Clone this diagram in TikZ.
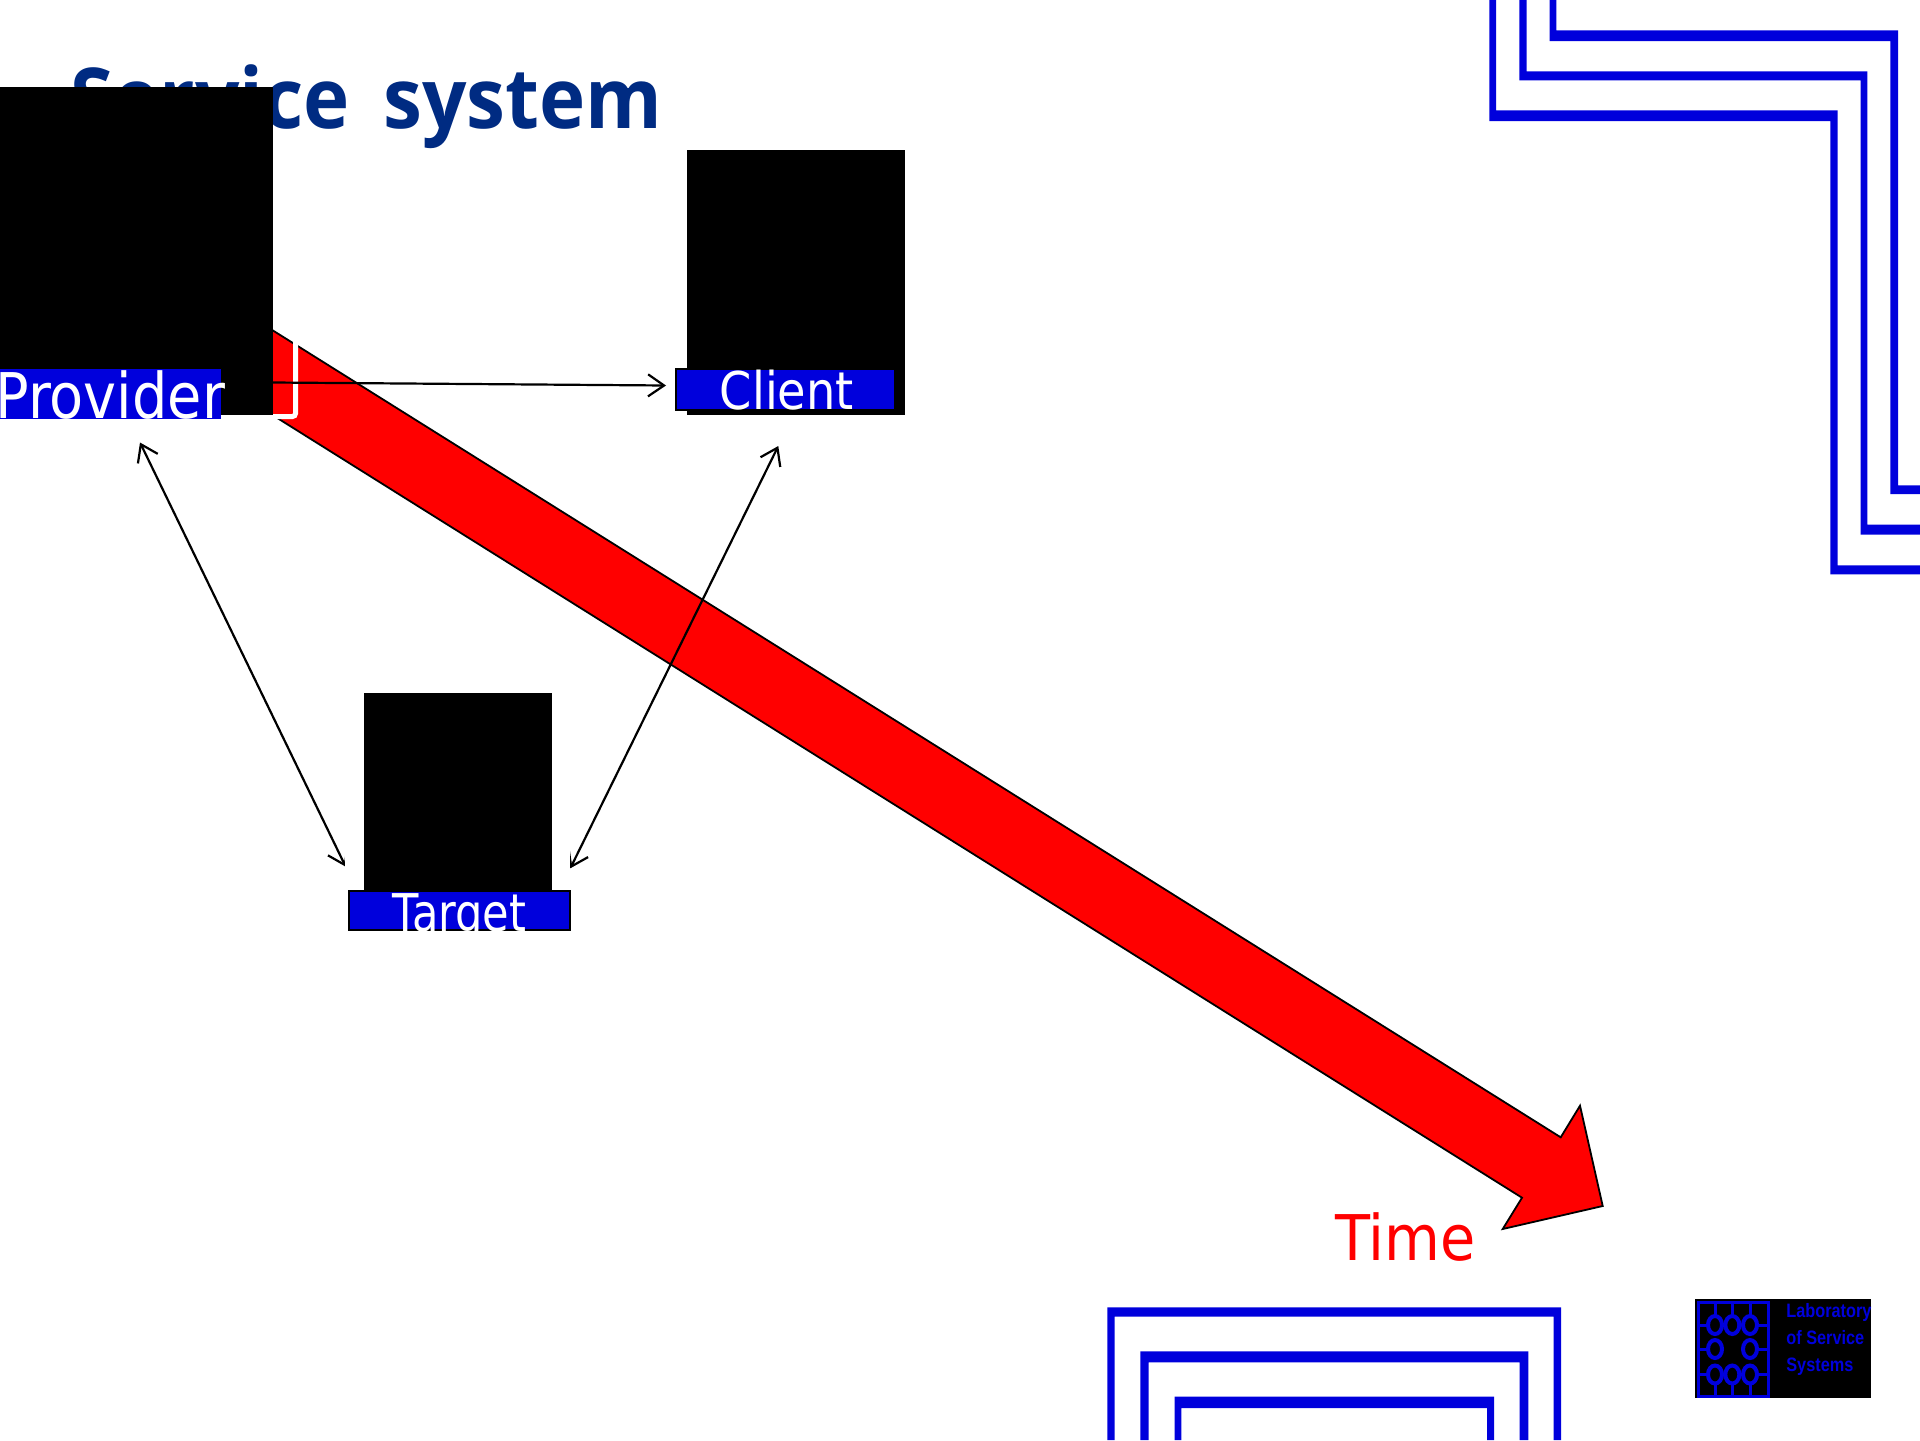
\documentclass[tikz,border=0pt]{standalone}
\usepackage{fontspec}
\usetikzlibrary{arrows.meta}
\setmainfont{DejaVu Sans}
\newfontfamily\titlefont{Open Sans}[BoldFont={Open Sans Bold}]
\newfontfamily\logofont{Liberation Sans}[BoldFont={Liberation Sans Bold}]
\definecolor{navy}{RGB}{0,43,130}
\definecolor{bblue}{RGB}{0,0,220}
\tikzset{
  px/.style={x=0.5pt,y=-0.5pt},
  imgbox/.style={fill=black,draw=none,inner sep=0pt,anchor=north west},
  lab/.style={text=white,font=\fontsize{20pt}{20pt}\selectfont,inner sep=0pt,anchor=base west,transform shape},
  labbox/.style={fill=bblue,draw=black,line width=1pt},
  link/.style={draw=black,line width=1.1pt,{Straight Barb[length=8pt,width=11pt]}-{Straight Barb[length=8pt,width=11pt]}},
  linkone/.style={draw=black,line width=1.1pt,-{Straight Barb[length=8pt,width=11pt]}},
  frame/.style={fill=bblue,draw=none},
  logoline/.style={draw=bblue,line width=1.5pt},
  logoring/.style={draw=bblue,line width=2pt},
  logotext/.style={text=bblue,font=\logofont\bfseries\fontsize{9.7pt}{9.7pt}\selectfont,inner sep=0pt,anchor=base west,xscale=0.84,transform shape},
}
\begin{document}
\begin{tikzpicture}[px]
\useasboundingbox (0,0) rectangle (1920,1440);
% title
\node[text=navy,font=\titlefont\bfseries\fontsize{42pt}{42pt}\selectfont,inner sep=0pt,anchor=base west,xscale=0.93,transform shape] (title) at (70,128) {Service\hspace{7.2pt} system};
% time arrow
\draw[fill=red,draw=black,line width=0.9pt,line join=miter]
  (200,284.8) -- (1560.7,1137.3) -- (1580,1105.7) -- (1602.7,1206) -- (1502.7,1229) -- (1522,1197.7) -- (200,369.6) -- cycle;
% white frame
\draw[white,line width=2.5pt,rounded corners=1.5pt] (295.5,300) -- (295.5,416.5) -- (220,416.5);
% connectors
\coordinate (pc) at (273,382.5);
\coordinate (cp) at (666,385.5);
\coordinate (pt) at (140,442.5);
\coordinate (tp) at (345.7,866.7);
\coordinate (ct) at (778.3,446);
\coordinate (tc) at (570.3,868.3);
\draw[linkone] (pc) -- (cp);
\draw[link] (pt) -- (tp);
\draw[link] (ct) -- (tc);
% white margin of the target picture, over the arrow barbs
\fill[white] (345.2,830) rectangle (569.8,891);
% black image boxes
\node[imgbox,minimum width=136.5pt,minimum height=164pt] (providerimg) at (0,87) {};
\node[imgbox,minimum width=109pt,minimum height=132.5pt] (clientimg) at (687,149.5) {};
\node[imgbox,minimum width=94pt,minimum height=99.5pt] (targetimg) at (364,693) {};
% labels
\fill[bblue] (0,369) rectangle (221,419);
\node[lab,font=\fontsize{31.5pt}{31.5pt}\selectfont,xscale=0.885] (provider) at (-5,418) {Provider};
\path[labbox] (675.5,369) rectangle (895,409.5);
\node[lab,font=\fontsize{26pt}{26pt}\selectfont,xscale=0.89] (client) at (719.5,409) {Client};
\path[labbox] (349,891) rectangle (569.5,930);
\begin{scope}
\clip (349,891) rectangle (569.5,930);
\node[lab,font=\fontsize{26pt}{26pt}\selectfont,xscale=0.83] (target) at (392.5,931) {Target};
\end{scope}
% time label
\node[lab,text=red,font=\fontsize{31.5pt}{31.5pt}\selectfont,xscale=0.91] (time) at (1335,1260) {Time};
% frames top right
\fill[frame] (1549.7,0) -- (1556.3,0) -- (1556.3,30.3) -- (1898,30.3) -- (1898,485.3) -- (1920,485.3) -- (1920,494) -- (1890.3,494) -- (1890.3,41) -- (1549.7,41) -- cycle;
\fill[frame] (1519.3,0) -- (1526.7,0) -- (1526.7,71.3) -- (1867.3,71.3) -- (1867.3,524.7) -- (1920,524.7) -- (1920,534.7) -- (1860.7,534.7) -- (1860.7,80.3) -- (1519.3,80.3) -- cycle;
\fill[frame] (1489.3,0) -- (1496,0) -- (1496,110.3) -- (1837.7,110.3) -- (1837.7,565.3) -- (1920,565.3) -- (1920,574.3) -- (1830.3,574.3) -- (1830.3,121) -- (1489.3,121) -- cycle;
% frames bottom
\fill[frame] (1107.3,1440) -- (1107.3,1307.3) -- (1561,1307.3) -- (1561,1440) -- (1553.7,1440) -- (1553.7,1316.7) -- (1114.7,1316.7) -- (1114.7,1440) -- cycle;
\fill[frame] (1140.3,1440) -- (1140.3,1351.3) -- (1528.3,1351.3) -- (1528.3,1440) -- (1519.7,1440) -- (1519.7,1362.3) -- (1148.7,1362.3) -- (1148.7,1440) -- cycle;
\fill[frame] (1174.7,1440) -- (1174.7,1396.7) -- (1494,1396.7) -- (1494,1440) -- (1487,1440) -- (1487,1408) -- (1181.3,1408) -- (1181.3,1440) -- cycle;
% logo
\fill[black] (1695,1299) rectangle (1871,1398.3);
\draw[logoline] (1698,1302.5) rectangle (1768,1396.5);
\foreach \x in {1715,1732.3,1750}{
  \draw[logoline] (\x,1302.5) -- (\x,1316);
  \draw[logoline] (\x,1383.5) -- (\x,1396.5);
  \draw[logoring] (\x,1325) ellipse [x radius=7,y radius=9];
  \draw[logoring] (\x,1374.5) ellipse [x radius=7,y radius=9];
}
\draw[logoring] (1715,1349) ellipse [x radius=7,y radius=9];
\draw[logoring] (1750,1349) ellipse [x radius=7,y radius=9];
\foreach \y in {1325,1349,1374.5}{
  \draw[logoline] (1698,\y) -- (1708,\y);
  \draw[logoline] (1757,\y) -- (1768,\y);
}
\node[logotext] (lab1) at (1786,1317.3) {Laboratory};
\node[logotext] (lab2) at (1786,1344) {of Service};
\node[logotext] (lab3) at (1786,1371.7) {Systems};
\end{tikzpicture}
\end{document}
